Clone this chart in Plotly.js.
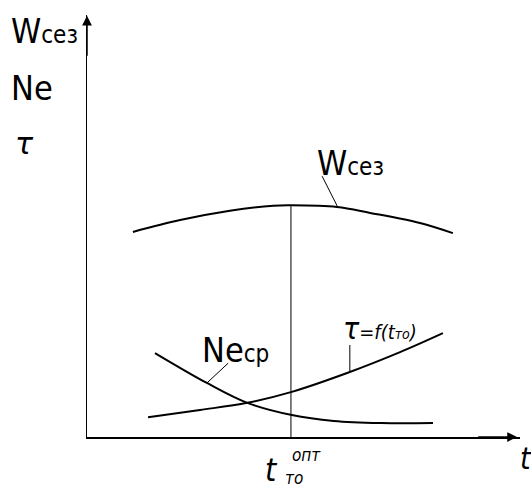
<!DOCTYPE html>
<html>
<head>
<meta charset="utf-8">
<script src="https://cdn.plot.ly/plotly-3.0.1.min.js"></script>
<style>
  html, body { margin: 0; padding: 0; background: #fff; }
  #plotDiv { width: 531px; height: 489px; }
</style>
</head>
<body>
<div id="plotDiv"></div>
<script>
// curves (x, y in 0..100 axis units)
var wX = [10.6, 21.5, 33.0, 43.0, 47.1, 57.7, 65.4, 76.9, 84.5];
var wY = [48.6, 51.4, 53.6, 54.8, 54.9, 54.5, 53.1, 50.7, 48.3];

var neX = [15.7, 27.7, 37.0, 47.3, 57.0, 68.0, 79.9];
var neY = [19.9, 12.8, 8.1, 5.2, 3.8, 3.3, 3.3];

var tauX = [14.1, 26.1, 37.0, 47.3, 60.7, 72.3, 82.2];
var tauY = [4.7, 6.4, 8.1, 10.7, 15.4, 20.1, 24.6];

// optimum line
var optX = [47.1, 47.1];
var optY = [0, 54.9];

// leader lines from labels to curves
var leadW = {x: [54.3, 58.0], y: [61.8, 54.3]};
var leadNe = {x: [32.6, 27.7], y: [17.5, 12.8]};
var leadTau = {x: [60.7, 60.7], y: [21.8, 15.4]};

var fnt = 'DejaVu Sans Condensed, Liberation Sans Narrow, Roboto Condensed, sans-serif';

function curve(x, y, w) {
  return {x: x, y: y, type: 'scatter', mode: 'lines', line: {color: '#000', width: w, shape: 'spline'}, hoverinfo: 'skip'};
}

var data = [
  curve(wX, wY, 2),
  curve(neX, neY, 2),
  curve(tauX, tauY, 2),
  curve(optX, optY, 1),
  curve(leadW.x, leadW.y, 1),
  curve(leadNe.x, leadNe.y, 1),
  curve(leadTau.x, leadTau.y, 1)
];

var big = {family: fnt, size: 34, color: '#000'};
var sm = '<span style="font-size:24px">';

var annotations = [
  // axis arrows
  {x: 99.3, y: 0, ax: 90, ay: 0, xref: 'x', yref: 'y', axref: 'x', ayref: 'y', text: '',
   showarrow: true, arrowhead: 2, arrowsize: 1.3, arrowwidth: 1.5, arrowcolor: '#000'},
  {x: 0, y: 99.8, ax: 0, ay: 90, xref: 'x', yref: 'y', axref: 'x', ayref: 'y', text: '',
   showarrow: true, arrowhead: 2, arrowsize: 1.3, arrowwidth: 1.5, arrowcolor: '#000'},
  // y axis labels
  {x: -0.18, y: 0.962, xref: 'paper', yref: 'paper', xanchor: 'left', yanchor: 'middle', showarrow: false,
   text: 'W' + sm + 'сез</span>', font: big},
  {x: -0.18, y: 0.827, xref: 'paper', yref: 'paper', xanchor: 'left', yanchor: 'middle', showarrow: false,
   text: 'Ne', font: big},
  {x: -0.172, y: 0.695, xref: 'paper', yref: 'paper', xanchor: 'left', yanchor: 'middle', showarrow: false,
   text: '<i>τ</i>', font: {family: 'DejaVu Sans, sans-serif', size: 30, color: '#000'}},
  // x axis labels
  {x: 0.995, y: -0.05, xref: 'paper', yref: 'paper', xanchor: 'left', yanchor: 'middle', showarrow: false,
   text: '<i>t</i>', font: {family: fnt, size: 30, color: '#000'}},
  {x: 0.425, y: -0.078, xref: 'paper', yref: 'paper', xanchor: 'center', yanchor: 'middle', showarrow: false,
   text: '<i>t</i>', font: {family: fnt, size: 32, color: '#000'}},
  {x: 0.468, y: -0.043, xref: 'paper', yref: 'paper', xanchor: 'left', yanchor: 'middle', showarrow: false,
   text: '<i>опт</i>', font: {family: fnt, size: 17, color: '#000'}},
  {x: 0.452, y: -0.097, xref: 'paper', yref: 'paper', xanchor: 'left', yanchor: 'middle', showarrow: false,
   text: '<i>то</i>', font: {family: fnt, size: 17, color: '#000'}},
  // curve labels
  {x: 52.7, y: 64.9, xref: 'x', yref: 'y', xanchor: 'left', yanchor: 'middle', showarrow: false,
   text: 'W' + sm + 'сез</span>', font: big},
  {x: 26.1, y: 20.6, xref: 'x', yref: 'y', xanchor: 'left', yanchor: 'middle', showarrow: false,
   text: 'Ne' + sm + 'ср</span>', font: big},
  {x: 58.6, y: 25.8, xref: 'x', yref: 'y', xanchor: 'left', yanchor: 'middle', showarrow: false,
   text: '<i>τ</i><span style="font-size:20px"><i>=f(t<span style="font-size:14px">то</span>)</i></span>',
   font: {family: fnt, size: 30, color: '#000'}}
];

var layout = {
  width: 531,
  height: 489,
  paper_bgcolor: '#fff',
  plot_bgcolor: '#fff',
  showlegend: false,
  margin: {l: 87, r: 11, t: 15, b: 52, pad: 0},
  xaxis: {range: [0, 100], showgrid: false, zeroline: false, showticklabels: false, ticks: '',
          showline: true, linecolor: '#000', linewidth: 1.5, fixedrange: true},
  yaxis: {range: [0, 100], showgrid: false, zeroline: false, showticklabels: false, ticks: '',
          showline: true, linecolor: '#000', linewidth: 1.5, fixedrange: true},
  annotations: annotations
};

Plotly.newPlot('plotDiv', data, layout, {displayModeBar: false, staticPlot: true});
</script>
</body>
</html>
